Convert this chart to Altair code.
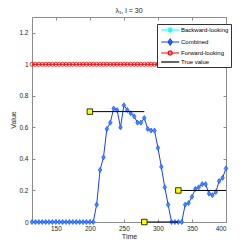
import altair as alt
import pandas as pd

# ---- data ----
time = list(range(115, 405, 5))
combined = ([0.0] * 19 +
            [0.11, 0.33, 0.41, 0.59, 0.63, 0.72, 0.71, 0.60, 0.74, 0.71, 0.69,
             0.67, 0.63, 0.63, 0.66, 0.59, 0.58, 0.58, 0.47, 0.35, 0.22, 0.11] +
            [0.0] * 4 +
            [0.11, 0.12, 0.16, 0.21, 0.22, 0.24, 0.24, 0.18, 0.17, 0.19, 0.26, 0.28, 0.34])
forward = [1.0] * len(time)
backward = [1.0] * len(time)
true_start = [200, 280, 330]
true_end = [280, 330, 400]
true_value = [0.7, 0.0, 0.2]
series_names = ["Backward-looking", "Combined", "Forward-looking", "True value"]
x_ticks = [150, 200, 250, 300, 350, 400]
y_ticks = [0, 0.2, 0.4, 0.6, 0.8, 1, 1.2]

df = pd.DataFrame({"time": time, "combined": combined, "forward": forward, "backward": backward})
df_true = pd.DataFrame({"start": true_start, "end": true_end, "value": true_value})
df_leg = pd.DataFrame({"series": series_names, "time": [200] * 4, "value": [0.5] * 4})

FONT = "Liberation Sans"
GRAY = "#8c8c8c"
TXT = "#262626"

xsc = alt.Scale(domain=[115, 400], nice=False, zero=False)
ysc = alt.Scale(domain=[0, 1.3], nice=False, zero=False)

common_axis = dict(offset=-3, tickSize=3, domain=False, grid=False, tickColor=GRAY,
                   labelColor=TXT, labelFont=FONT, labelFontSize=6.5,
                   titleFont=FONT, titleFontSize=7, titleFontWeight="normal", titleColor=TXT)

base = alt.Chart(df)

backward_line = base.mark_line(color="#00ffff", strokeWidth=1).encode(
    x=alt.X("time:Q", scale=xsc, axis=None), y=alt.Y("backward:Q", scale=ysc, axis=None))

forward_line = base.mark_line(color="#ff0000", strokeWidth=1).encode(
    x=alt.X("time:Q", scale=xsc, axis=None), y=alt.Y("forward:Q", scale=ysc, axis=None))
forward_pts = base.mark_point(shape="circle", filled=False, color="#ff0000", size=16,
                              strokeWidth=0.8, opacity=1).encode(
    x=alt.X("time:Q", scale=xsc, axis=None), y=alt.Y("forward:Q", scale=ysc, axis=None))

comb_line = base.mark_line(color="#1a3cff", strokeWidth=1).encode(
    x=alt.X("time:Q", scale=xsc,
            axis=alt.Axis(values=x_ticks, title="Time", orient="bottom", labelPadding=3,
                          titlePadding=1, **common_axis)),
    y=alt.Y("combined:Q", scale=ysc,
            axis=alt.Axis(values=y_ticks, format="~g", title="Value", orient="left",
                          labelPadding=4, titlePadding=2, **common_axis)))
comb_pts = base.mark_point(shape="M0,-1.2L0.85,0L0,1.2L-0.85,0Z", filled=True, fill="#3390ff",
                           stroke="#1a3cff", strokeWidth=0.6, size=18, opacity=1).encode(
    x=alt.X("time:Q", scale=xsc, axis=None), y=alt.Y("combined:Q", scale=ysc, axis=None))

frame_axes = base.mark_point(opacity=0).encode(
    x=alt.X("time:Q", scale=xsc,
            axis=alt.Axis(values=x_ticks, title="", orient="top", labels=False, **common_axis)),
    y=alt.Y("combined:Q", scale=ysc,
            axis=alt.Axis(values=y_ticks, title="", orient="right", labels=False, **common_axis)))

true_rules = alt.Chart(df_true).mark_rule(color="black", strokeWidth=1).encode(
    x=alt.X("start:Q", scale=xsc, axis=None), x2="end:Q",
    y=alt.Y("value:Q", scale=ysc, axis=None))
true_sq = alt.Chart(df_true).mark_square(fill="#ffff00", stroke="black", strokeWidth=0.8,
                                         size=30, opacity=1).encode(
    x=alt.X("start:Q", scale=xsc, axis=None), y=alt.Y("value:Q", scale=ysc, axis=None))

leg_paths = [
    "M-0.6,0H5.4M2.4,-0.9V0.9M1.77,-0.63L3.03,0.63M1.77,0.63L3.03,-0.63",
    "M-0.6,0H5.4M2.4,-1L3.1,0L2.4,1L1.7,0Z",
    "M-0.6,0H5.4M3.1,0L2.9,0.5L2.4,0.7L1.9,0.5L1.7,0L1.9,-0.5L2.4,-0.7L2.9,-0.5Z",
    "M-0.6,0H5.4",
]
leg = alt.Legend(orient="none", legendX=125, legendY=7, title=None, labelFont=FONT,
                 labelFontSize=6, labelColor="black", symbolSize=36, symbolStrokeWidth=1.2,
                 labelOffset=14, rowPadding=0, padding=2, strokeColor="#333333",
                 fillColor="white", cornerRadius=0)
legend_layer = alt.Chart(df_leg).mark_point(filled=False, opacity=1).encode(
    x=alt.X("time:Q", scale=xsc, axis=None), y=alt.Y("value:Q", scale=ysc, axis=None),
    color=alt.Color("series:N", scale=alt.Scale(domain=series_names,
                    range=["#00ffff", "#1a3cff", "#ff0000", "#000000"]), legend=leg),
    shape=alt.Shape("series:N", scale=alt.Scale(domain=series_names, range=leg_paths), legend=leg),
    fill=alt.Fill("series:N", scale=alt.Scale(domain=series_names,
                  range=["transparent", "#3390ff", "transparent", "transparent"]), legend=leg),
).transform_filter("false")

chart = alt.layer(
    comb_line, frame_axes, backward_line, forward_line, forward_pts, comb_pts,
    true_rules, true_sq, legend_layer
).resolve_axis(x="independent", y="independent").properties(
    width=194, height=205,
    padding={"left": 24, "top": 9, "right": 13, "bottom": 18},
    autosize=alt.AutoSizeParams(type="none"),
    title=alt.TitleParams("λ₁, l = 30", font=FONT, fontSize=7, fontWeight="normal",
                          offset=3, color="#222222"),
).configure_view(stroke=GRAY, strokeWidth=1)

chart.save("out.html", embed_options={"renderer": "svg", "actions": False})
